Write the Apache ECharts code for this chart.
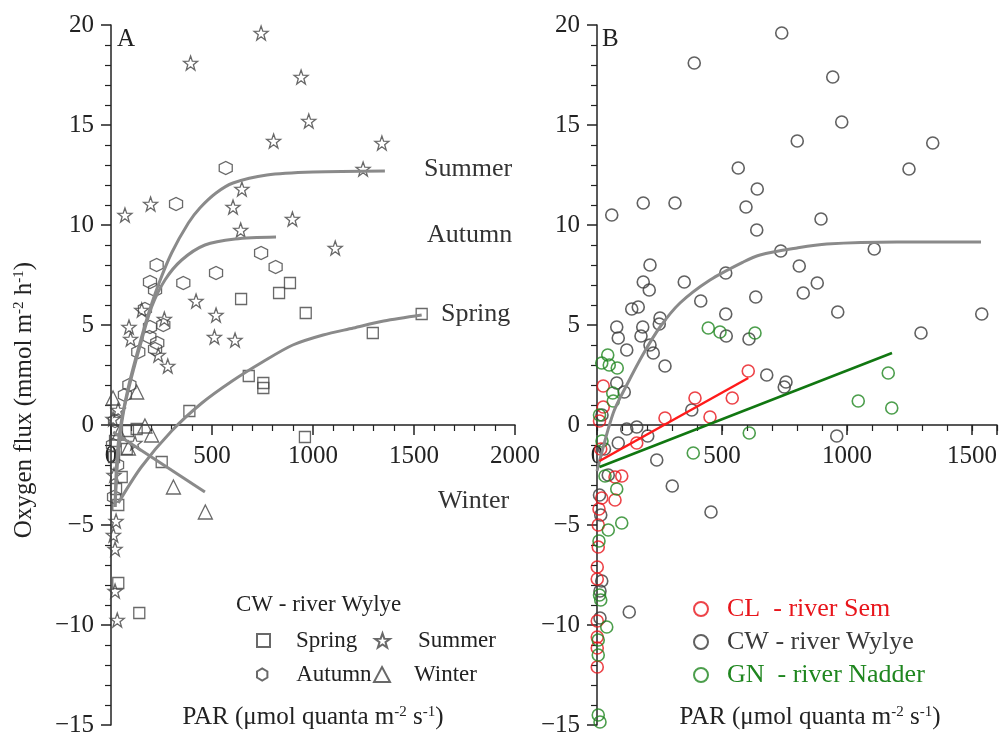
<!DOCTYPE html>
<html>
<head>
<meta charset="utf-8">
<script src="https://cdn.jsdelivr.net/npm/echarts@6/dist/echarts.min.js"></script>
<style>
  html, body { margin: 0; padding: 0; background: #fff; }
  #main { width: 1002px; height: 736px; }
</style>
</head>
<body>
<div id="main"></div>
<script>
// ---- panel A : CW - river Wylye, by season ----
const springA = [[964,5.6],[1538,5.55],[1296,4.6],[644,6.3],[832,6.6],[886,7.1],[682,2.45],[754,2.1],[754,1.85],
  [388,0.7],[960,-0.6],[251,-1.85],[53,-2.6],[36,-4.0],[36,-7.9],[140,-9.4],[84,-0.3],[127,-0.2],[78,-1.2],
  [20,-0.8],[15,-1.6],[25,-3.2]];
const summerA = [[743,19.6],[394,18.1],[941,17.4],[979,15.2],[805,14.2],[1341,14.1],[1248,12.8],[648,11.8],
  [604,10.9],[196,11.05],[69,10.5],[898,10.3],[642,9.75],[1110,8.85],[421,6.2],[520,5.5],[512,4.4],[614,4.25],
  [264,5.3],[234,3.5],[281,2.95],[89,4.9],[97,4.3],[152,5.75],[35,0.75],[20,-6.2],[20,-8.3],[31,-9.75],
  [119,-0.9],[10,0.3],[15,-2.5],[25,-4.8],[12,-5.5]];
const autumnA = [[568,12.85],[322,11.05],[743,8.6],[815,7.9],[520,7.6],[358,7.1],[226,8.0],[193,7.15],[218,6.75],
  [168,5.8],[193,4.9],[190,4.4],[259,5.0],[229,4.1],[218,3.8],[135,3.65],[91,2.0],[69,1.5],[20,0.2],[10,-1.0],
  [30,-2.0],[15,-3.6]];
const winterA = [[168,-0.05],[201,-0.5],[309,-3.1],[467,-4.35],[127,1.65],[10,1.35],[86,-1.15],[40,-0.4]];

// fitted curves
const summerFitA = [[20,-4.1],[28,-1.9],[45,-0.2],[86,1.9],[135,3.8],[185,5.55],[234,7.0],[300,8.6],
  [383,10.1],[440,10.85],[520,11.6],[604,12.1],[772,12.5],[1000,12.65],[1356,12.7]];
const autumnFitA = [[20,-4.1],[36,-1.4],[61,0.6],[102,2.4],[152,4.25],[201,5.9],[267,7.25],[350,8.25],
  [465,9.0],[614,9.3],[817,9.4]];
const springFitA = [[36,-3.9],[150,-2.1],[300,-0.3],[450,1.1],[600,2.2],[750,3.15],[900,4.0],[1050,4.5],
  [1200,4.85],[1350,5.2],[1538,5.5]];
const winterFitA = [[11,-0.35],[465,-3.35]];

// ---- panel B : three rivers ----
const semB = [[605,2.7],[392,1.35],[541,1.35],[452,0.4],[272,0.35],[25,1.95],[25,0.9],[159,-0.9],[72,-2.6],
  [99,-2.55],[72,-3.75],[19,-3.65],[5,-6.1],[1,-7.1],[1,-7.7],[1,-9.8],[1,-10.6],[1,-11.15],[1,-12.1],
  [10,0.2],[15,-1.2],[5,-5.0],[8,-4.2]];
const wylyeB = [[739,19.6],[389,18.1],[943,17.4],[979,15.15],[801,14.2],[565,12.85],[641,11.8],[596,10.9],
  [639,9.75],[896,10.3],[185,11.1],[312,11.1],[59,10.5],[1343,14.1],[1248,12.8],[735,8.7],[1109,8.8],
  [809,7.95],[881,7.1],[825,6.6],[963,5.65],[1539,5.55],[1296,4.6],[212,8.0],[185,7.15],[209,6.75],
  [349,7.15],[415,6.2],[515,7.6],[515,5.55],[517,4.45],[635,6.4],[608,4.3],[139,5.8],[165,5.9],[79,4.9],
  [85,4.35],[119,3.75],[183,4.9],[176,4.45],[252,5.35],[249,5.05],[212,4.0],[225,3.6],[272,2.95],[79,2.1],
  [109,1.65],[379,0.75],[679,2.5],[756,2.15],[749,1.9],[959,-0.55],[239,-1.75],[301,-3.05],[456,-4.35],
  [129,-9.35],[203,-0.55],[159,-0.1],[119,-0.2],[85,-0.9],[45,-2.5],[19,-7.8],[12,-8.3],[12,-9.65],
  [20,0.5],[30,-1.2],[10,-3.5],[15,-4.5]];
const nadderB = [[445,4.85],[492,4.65],[632,4.6],[43,3.5],[19,3.1],[49,3.0],[81,2.85],[63,1.6],[65,1.2],
  [1165,2.6],[1045,1.2],[1179,0.85],[609,-0.4],[385,-1.4],[79,-3.2],[45,-5.25],[99,-4.9],[32,-2.55],
  [39,-10.1],[15,-8.75],[12,-14.85],[5,-14.5],[5,-10.75],[10,0.5],[20,-0.8],[8,-5.8],[10,-8.5],[5,-11.5]];

const semFitB = [[10,-1.8],[605,2.35]];
const nadderFitB = [[10,-2.1],[1180,3.6]];
const wylyeFitB = [[0,-2.3],[65,0.6],[119,2.0],[185,3.55],[252,4.9],[332,6.1],[452,7.25],[585,8.15],
  [652,8.5],[800,8.85],[919,9.05],[1200,9.15],[1536,9.15]];

const yTicks = { min: -15, max: 20, interval: 5 };

const FONT = "'Liberation Serif', 'Times New Roman', serif";
const INK = '#222';
const MARK = '#444';
const FIT = '#8a8a8a';
const STAR = 'path://M0,-10 L2.35,-3.24 9.51,-3.09 3.8,1.24 5.88,8.09 0,4 -5.88,8.09 -3.8,1.24 -9.51,-3.09 -2.35,-3.24Z';
const HEX = 'path://M8.66,-5 L8.66,5 0,10 -8.66,5 -8.66,-5 0,-10Z';

// the x axes sit on y = 0: grid height 700 spans 35 units, so 0 is 300px above the bottom edge
const ZERO_SHIFT = -300;

const rich = {
  sup: { fontSize: 15, fontFamily: FONT, color: INK, verticalAlign: 'top', lineHeight: 15, padding: [0, 0, 11, 0] }
};
const parName = 'PAR (μmol quanta m{sup|-2} s{sup|-1})';

function yAxis(grid, withName) {
  return {
    type: 'value', gridIndex: grid, min: yTicks.min, max: yTicks.max, interval: yTicks.interval,
    axisLine: { show: true, lineStyle: { color: INK, width: 1.5 } },
    axisTick: { show: true, length: 10, lineStyle: { color: INK, width: 1.5 } },
    minorTick: { show: true, splitNumber: 5, length: 6, lineStyle: { color: INK, width: 1.2 } },
    axisLabel: { color: INK, fontFamily: FONT, fontSize: 25, margin: 17,
      formatter: v => String(v).replace('-', '\u2212') },
    splitLine: { show: false },
    name: withName ? 'Oxygen flux (mmol m{sup|-2} h{sup|-1})' : '',
    nameLocation: 'middle', nameGap: 74, nameRotate: 90,
    nameTextStyle: { color: INK, fontFamily: FONT, fontSize: 25, rich: rich, padding: [0, 50, 0, 0] }
  };
}

function scatter(name, data, symbol, size, color, axis) {
  return {
    name: name, type: 'scatter', data: data, symbol: symbol, symbolSize: size,
    xAxisIndex: axis, yAxisIndex: axis === 0 ? 0 : 1,
    itemStyle: { color: 'rgba(0,0,0,0)', borderColor: color, borderWidth: axis === 0 ? 1.3 : 1.6 },
    emphasis: { disabled: true }
  };
}

function fit(data, color, width, axis) {
  return {
    type: 'line', data: data, xAxisIndex: axis, yAxisIndex: axis === 0 ? 0 : 1,
    smooth: 0.3, showSymbol: false, silent: true, z: 3,
    lineStyle: { color: color, width: width }
  };
}

const legendText = (pad, size) => ({ color: INK, fontFamily: FONT, fontSize: size || 23, padding: [0, 0, 0, pad] });

const chart = echarts.init(document.getElementById('main'));
chart.setOption({
  animation: false,
  grid: [
    { left: 111, top: 25, width: 404, height: 700, outerBoundsMode: 'none' },
    { left: 597, top: 25, width: 400, height: 700, outerBoundsMode: 'none' }
  ],
  xAxis: [
    {
      type: 'value', gridIndex: 0, min: 0, max: 2000, interval: 500, position: 'bottom', offset: ZERO_SHIFT,
      axisLine: { onZero: false, lineStyle: { color: INK, width: 1.5 } },
      axisTick: { length: 10, lineStyle: { color: INK, width: 1.5 } },
      minorTick: { show: true, splitNumber: 5, length: 6, lineStyle: { color: INK, width: 1.2 } },
      axisLabel: { color: INK, fontFamily: FONT, fontSize: 25, margin: 19, formatter: v => String(v) },
      splitLine: { show: false },
      name: parName, nameLocation: 'middle', nameGap: 280,
      nameTextStyle: { color: INK, fontFamily: FONT, fontSize: 25, rich: rich }
    },
    {
      type: 'value', gridIndex: 1, min: 0, max: 1600, interval: 100, position: 'bottom', offset: ZERO_SHIFT,
      axisLine: { onZero: false, lineStyle: { color: INK, width: 1.5 } },
      axisTick: { length: 6, lineStyle: { color: INK, width: 1.2 } },
      axisLabel: { color: INK, fontFamily: FONT, fontSize: 25, margin: 19,
        formatter: v => (v % 500 === 0 ? String(v) : '') },
      splitLine: { show: false },
      name: parName, nameLocation: 'middle', nameGap: 280,
      nameTextStyle: { color: INK, fontFamily: FONT, fontSize: 25, rich: rich, padding: [0, 0, 0, 26] }
    },
    {
      // major ticks for panel B
      type: 'value', gridIndex: 1, position: 'bottom', offset: ZERO_SHIFT, min: 0, max: 1600, interval: 500,
      axisLine: { show: false, onZero: false },
      axisTick: { length: 10, lineStyle: { color: INK, width: 1.5 } },
      axisLabel: { show: false }, splitLine: { show: false }
    }
  ],
  yAxis: [yAxis(0, true), yAxis(1, false)],
  legend: [
    { data: ['Spring'], left: 251, top: 624, itemWidth: 13, itemHeight: 13, textStyle: legendText(21) },
    { data: ['Summer'], left: 369, top: 624, itemWidth: 15, itemHeight: 15, textStyle: legendText(23) },
    { data: ['Autumn'], left: 251, top: 658, itemWidth: 12, itemHeight: 12, textStyle: legendText(23) },
    { data: ['Winter'], left: 368, top: 658, itemWidth: 16, itemHeight: 15, textStyle: legendText(19) },
    {
      orient: 'vertical', left: 688, top: 591, itemWidth: 14, itemHeight: 14, itemGap: 7,
      data: [
        { name: 'CL  - river Sem', textStyle: { color: '#e8151b' } },
        { name: 'CW - river Wylye', textStyle: { color: '#3a3a3a' } },
        { name: 'GN  - river Nadder', textStyle: { color: '#1f861f' } }
      ],
      textStyle: legendText(14, 26)
    }
  ],
  graphic: [
    { type: 'text', left: 117, top: 27, style: { text: 'A', font: '25px ' + FONT, fill: INK } },
    { type: 'text', left: 602, top: 27, style: { text: 'B', font: '25px ' + FONT, fill: INK } },
    { type: 'text', left: 424, top: 156, style: { text: 'Summer', font: '26px ' + FONT, fill: '#333' } },
    { type: 'text', left: 427, top: 222, style: { text: 'Autumn', font: '26px ' + FONT, fill: '#333' } },
    { type: 'text', left: 441, top: 301, style: { text: 'Spring', font: '26px ' + FONT, fill: '#333' } },
    { type: 'text', left: 438, top: 488, style: { text: 'Winter', font: '26px ' + FONT, fill: '#333' } },
    { type: 'text', left: 236, top: 593, style: { text: 'CW - river Wylye', font: '23px ' + FONT, fill: INK } }
  ],
  series: [
    scatter('Spring', springA, 'rect', 11, MARK, 0),
    scatter('Summer', summerA, STAR, 14, MARK, 0),
    scatter('Autumn', autumnA, HEX, 13, MARK, 0),
    scatter('Winter', winterA, 'triangle', 14, MARK, 0),
    fit(summerFitA, FIT, 3, 0),
    fit(autumnFitA, FIT, 3, 0),
    fit(springFitA, FIT, 3, 0),
    fit(winterFitA, FIT, 3, 0),
    scatter('CW - river Wylye', wylyeB, 'circle', 12, '#3a3a3a', 1),
    scatter('CL  - river Sem', semB, 'circle', 12, '#e8151b', 1),
    scatter('GN  - river Nadder', nadderB, 'circle', 12, '#1f861f', 1),
    fit(wylyeFitB, FIT, 3, 1),
    fit(semFitB, '#ff1a1a', 2.5, 1),
    fit(nadderFitB, '#117711', 2.5, 1)
  ]
});
</script>
</body>
</html>
